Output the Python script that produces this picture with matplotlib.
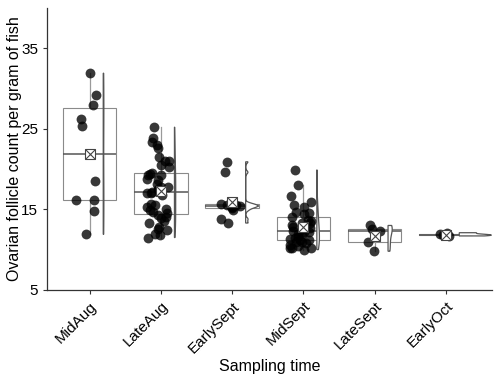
import numpy as np
import matplotlib
matplotlib.use("Agg")
import matplotlib.pyplot as plt

plt.rcParams['font.family'] = ['Liberation Sans', 'DejaVu Sans']

categories = ["MidAug", "LateAug", "EarlySept", "MidSept", "LateSept", "EarlyOct"]

mid_aug = [31.9, 29.2, 28.0, 26.2, 25.3, 18.5, 16.2, 16.1, 14.8, 11.9]
late_aug = [25.2, 23.9, 23.4, 23.0, 22.6, 21.5, 21.0, 21.0, 20.5, 20.3, 19.5, 19.4,
            19.3, 19.25, 18.75, 18.6, 18.2, 17.8, 17.8, 17.5, 17.4, 17.2, 17.0, 17.0,
            16.8, 15.7, 15.5, 15.3, 15.1, 14.9, 14.7, 14.5, 14.3, 14.1, 13.9, 13.5,
            13.3, 12.8, 12.6, 12.4, 12.0, 11.8, 11.5]
early_sept = [20.9, 19.6, 15.7, 15.6, 15.5, 15.4, 15.4, 15.3, 15.2, 14.9, 13.8, 13.3]
mid_sept = [19.9, 18.0, 16.7, 15.9, 15.5, 15.3, 14.7, 14.6, 14.4, 14.1, 13.7, 13.5,
            13.3, 13.3, 13.0, 12.8, 12.7, 12.5, 12.3, 12.2, 12.2, 12.0, 11.9, 11.6,
            11.4, 11.3, 11.2, 11.2, 11.0, 11.0, 10.8, 10.6, 10.4, 10.2, 10.2, 10.2, 10.0]
late_sept = [13.0, 12.6, 12.3, 11.0, 9.8]
early_oct = [12.1, 11.9, 11.8, 11.7]

groups = [mid_aug, late_aug, early_sept, mid_sept, late_sept, early_oct]
positions = np.arange(1, len(categories) + 1)

fig = plt.figure(figsize=(5.0, 3.77), dpi=100)
ax = fig.add_axes([0.094, 0.231, 0.890, 0.748])

# boxplots
bp = ax.boxplot(groups, positions=positions, widths=0.75, showfliers=False,
                showcaps=False, patch_artist=True, whis=1.5, zorder=1)
for b in bp['boxes']:
    b.set_facecolor('white')
    b.set_edgecolor('#8a8a8a')
    b.set_linewidth(0.8)
for w in bp['whiskers']:
    w.set_color('#9a9a9a')
    w.set_linewidth(0.9)
for m in bp['medians']:
    m.set_color('#555555')
    m.set_linewidth(1.1)

# half violins (area-scaled, trimmed)
def kde(vals, grid):
    v = np.asarray(vals, float)
    n = len(v)
    sd = v.std(ddof=1)
    iqr = np.subtract(*np.percentile(v, [75, 25]))
    lo = min(sd, iqr / 1.34) if iqr > 0 else sd
    bw = 0.9 * lo * n ** -0.2
    d = np.exp(-0.5 * ((grid[:, None] - v[None, :]) / bw) ** 2).sum(1)
    return d / (n * bw * np.sqrt(2 * np.pi))

grids, dens = [], []
for g in groups:
    grid = np.linspace(min(g), max(g), 512)
    grids.append(grid)
    dens.append(kde(g, grid))
gmax = max(d.max() for d in dens)
v_off, v_half = 0.19, 0.45
for p, grid, d in zip(positions, grids, dens):
    x0 = p + v_off
    xs = np.concatenate([[x0], x0 + d / gmax * v_half, [x0, x0]])
    ys = np.concatenate([[grid[0]], grid, [grid[-1], grid[0]]])
    ax.fill(xs, ys, facecolor='white', edgecolor='#555555', linewidth=0.9, zorder=2)

# jittered points
rng = np.random.default_rng(7)
for p, g in zip(positions, groups):
    xj = p - 0.03 + rng.uniform(-0.17, 0.15, len(g))
    ax.scatter(xj, g, s=50, color='black', alpha=0.78, linewidths=0, zorder=3)

# means
means = [np.mean(g) for g in groups]
ax.plot(positions, means, linestyle='none', marker='s', markersize=7,
        markerfacecolor='white', markeredgecolor='#444444', markeredgewidth=0.8, zorder=4)
ax.plot(positions, means, linestyle='none', marker='x', markersize=7,
        markeredgecolor='#444444', markeredgewidth=0.8, zorder=5)

ax.set_xlim(0.4, 6.65)
ax.set_ylim(5, 40)
ax.set_yticks([5, 15, 25, 35])
ax.set_xticks(positions)
ax.set_xticklabels(categories, rotation=45, ha='right', rotation_mode='anchor')
ax.tick_params(axis='both', labelsize=11, colors='#333333', length=3, width=0.8,
               labelcolor='black')
for s in ['top', 'right']:
    ax.spines[s].set_visible(False)
for s in ['left', 'bottom']:
    ax.spines[s].set_color('#333333')
    ax.spines[s].set_linewidth(0.9)
ax.set_xlabel('Sampling time', fontsize=11.5, va='center')
ax.xaxis.set_label_coords(0.5, -0.273)
ax.set_ylabel('Ovarian follicle count per gram of fish', fontsize=11.5, va='center')
ax.yaxis.set_label_coords(-0.072, 0.5)

fig.savefig('out.png', dpi=100)
